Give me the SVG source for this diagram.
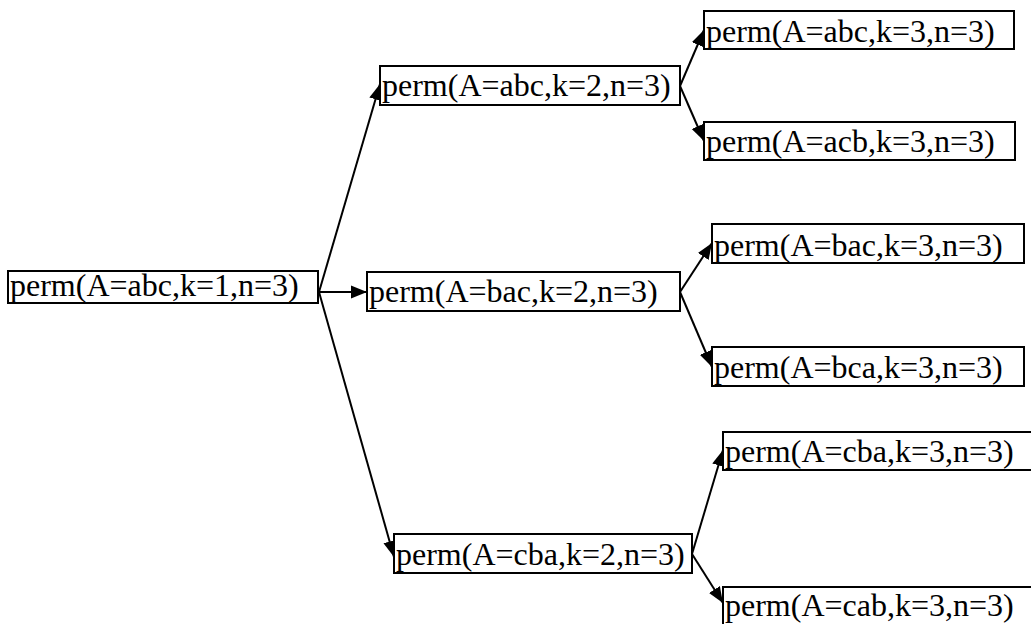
<svg xmlns="http://www.w3.org/2000/svg" width="1031" height="624" viewBox="0 0 1031 624">
<style>
.box{fill:#fff;stroke:#000;stroke-width:2}
.lbl{font-family:"Liberation Serif","Times New Roman",serif;font-size:32px;fill:#000}
.edge{stroke:#000;stroke-width:2;fill:none;marker-end:url(#ah)}
</style>
<defs>
<marker id="ah" viewBox="0 0 10 10" refX="10" refY="5" markerWidth="8" markerHeight="8" orient="auto" markerUnits="strokeWidth">
<path d="M0,1 L10,5 L0,9 z" fill="#000"/>
</marker>
</defs>
<rect width="1031" height="624" fill="#fff"/>
<g id="connectors">
<line class="edge" x1="319" y1="292" x2="380" y2="84"/>
<line class="edge" x1="319" y1="292" x2="367" y2="292"/>
<line class="edge" x1="319" y1="292" x2="394" y2="557"/>
<line class="edge" x1="680" y1="86" x2="704" y2="30"/>
<line class="edge" x1="680" y1="86" x2="704" y2="141"/>
<line class="edge" x1="680" y1="292" x2="712" y2="243"/>
<line class="edge" x1="680" y1="292" x2="712" y2="367"/>
<line class="edge" x1="692" y1="554" x2="723" y2="450"/>
<line class="edge" x1="692" y1="554" x2="723" y2="603"/>
</g>
<g id="n_root"><rect class="box" x="8" y="271" width="310" height="32"/><text class="lbl" x="10" y="296">perm(A=abc,k=1,n=3)</text></g>
<g id="n_abc2"><rect class="box" x="380" y="66" width="300" height="39"/><text class="lbl" x="382" y="96">perm(A=abc,k=2,n=3)</text></g>
<g id="n_bac2"><rect class="box" x="367" y="272" width="313" height="39"/><text class="lbl" x="369" y="302">perm(A=bac,k=2,n=3)</text></g>
<g id="n_cba2"><rect class="box" x="394" y="534" width="298" height="39"/><text class="lbl" x="396" y="565">perm(A=cba,k=2,n=3)</text></g>
<g id="n_abc3"><rect class="box" x="704" y="11" width="310" height="38"/><text class="lbl" x="706" y="42">perm(A=abc,k=3,n=3)</text></g>
<g id="n_acb3"><rect class="box" x="704" y="122" width="311" height="38"/><text class="lbl" x="706" y="152">perm(A=acb,k=3,n=3)</text></g>
<g id="n_bac3"><rect class="box" x="712" y="224" width="312" height="39"/><text class="lbl" x="714" y="256">perm(A=bac,k=3,n=3)</text></g>
<g id="n_bca3"><rect class="box" x="712" y="347" width="312" height="39"/><text class="lbl" x="714" y="378">perm(A=bca,k=3,n=3)</text></g>
<g id="n_cba3"><rect class="box" x="723" y="432" width="320" height="38"/><text class="lbl" x="725" y="462">perm(A=cba,k=3,n=3)</text></g>
<g id="n_cab3"><rect class="box" x="723" y="587" width="320" height="45"/><text class="lbl" x="725" y="616">perm(A=cab,k=3,n=3)</text></g>
</svg>
